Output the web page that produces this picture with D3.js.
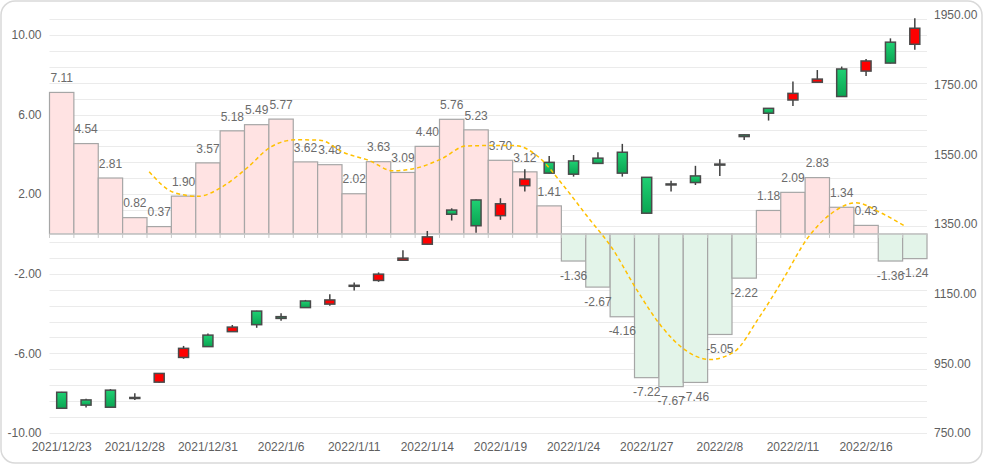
<!DOCTYPE html>
<html>
<head>
<meta charset="utf-8">
<script src="https://cdn.jsdelivr.net/npm/d3@7"></script>
<style>
  body { margin: 0; background: #fff; }
  text { font-family: "Liberation Sans", Arial, sans-serif; }
</style>
</head>
<body>
<div id="chart"></div>
<script>
// categories (trading days)
var dates = ["2021/12/23","2021/12/24","2021/12/27","2021/12/28","2021/12/29","2021/12/30","2021/12/31",
  "2022/1/4","2022/1/5","2022/1/6","2022/1/7","2022/1/10","2022/1/11","2022/1/12","2022/1/13","2022/1/14",
  "2022/1/17","2022/1/18","2022/1/19","2022/1/20","2022/1/21","2022/1/24","2022/1/25","2022/1/26","2022/1/27",
  "2022/1/28","2022/2/7","2022/2/8","2022/2/9","2022/2/10","2022/2/11","2022/2/14","2022/2/15","2022/2/16",
  "2022/2/17","2022/2/18"];

// bar series (left axis)
var barValues = [7.11,4.54,2.81,0.82,0.37,1.90,3.57,5.18,5.49,5.77,3.62,3.48,2.02,3.63,3.09,4.40,5.76,5.23,
  3.70,3.12,1.41,-1.36,-2.67,-4.16,-7.22,-7.67,-7.46,-5.05,-2.22,1.18,2.09,2.83,1.34,0.43,-1.36,-1.24];

// 5-day average of the bars, starts on the 5th day
var maValues = [null,null,null,null,3.13,2.09,1.89,2.37,3.30,4.38,4.73,4.71,4.08,3.70,3.17,3.32,3.78,4.42,
  4.44,4.44,3.84,2.42,0.84,-0.73,-2.80,-4.62,-5.84,-6.31,-5.92,-4.24,-2.29,-0.23,1.04,1.57,1.07,0.40];

// candles (right axis)
var open  = [821,830,824,850,921,993,998,1054,1061,1079,1110,1132,1172,1206,1252,1313,1378,1345,1408,1479,
  1496,1493,1524,1496,1381,1463,1469,1520,1601,1668,1725,1766,1716,1818,1812,1912];
var close = [867,845,873,852,896,967,1031,1041,1100,1084,1129,1120,1174,1188,1246,1292,1390,1419,1374,1460,
  1527,1531,1539,1556,1484,1465,1488,1522,1606,1682,1706,1757,1795,1789,1872,1866];
var low   = [819,823,822,845,894,963,997,1040,1052,1072,1109,1115,1159,1184,1245,1291,1360,1325,1362,1443,
  1495,1486,1523,1486,1380,1443,1462,1488,1591,1647,1689,1756,1715,1775,1811,1850];
var high  = [868,848,876,864,922,1000,1036,1060,1101,1094,1132,1148,1182,1211,1275,1330,1395,1420,1424,1507,
  1545,1548,1556,1580,1485,1474,1517,1536,1607,1683,1759,1792,1802,1824,1883,1941];

var leftTicks = [-10,-6,-2,2,6,10];
var rightTicks = [750,950,1150,1350,1550,1750,1950];

var svgWidth = 984;
var svgHeight = 467;
var plot = { left: 49.5, right: 927, top: 15, bottom: 433 };

var svg = d3.select("#chart")
  .append("svg")
  .attr("width", svgWidth)
  .attr("height", svgHeight);

var defs = svg.append("defs");
var grad = defs.append("linearGradient")
  .attr("id", "greenGrad")
  .attr("x1", 0).attr("y1", 0).attr("x2", 0).attr("y2", 1);
grad.append("stop").attr("offset", "0%").attr("stop-color", "#1fd073");
grad.append("stop").attr("offset", "100%").attr("stop-color", "#0aa552");

// outer frame
svg.append("rect")
  .attr("x", 1).attr("y", 1)
  .attr("width", 981).attr("height", 462)
  .attr("rx", 14)
  .attr("fill", "#fff")
  .attr("stroke", "#d9d9d9")
  .attr("stroke-width", 1.5);

// scales
var x = d3.scaleBand()
  .domain(d3.range(dates.length))
  .range([plot.left, plot.right])
  .padding(0);

var yLeft = d3.scaleLinear()
  .domain([-10, 11])
  .range([plot.bottom, plot.top]);

var yRight = d3.scaleLinear()
  .domain([750, 1950])
  .range([plot.bottom, plot.top]);

// gridlines
svg.append("g")
  .selectAll("line")
  .data(d3.range(-10, 11, 0.8))
  .enter()
  .append("line")
  .attr("x1", plot.left)
  .attr("x2", plot.right)
  .attr("y1", d => Math.round(yLeft(d)) + 0.5)
  .attr("y2", d => Math.round(yLeft(d)) + 0.5)
  .attr("stroke", "#ebebeb")
  .attr("stroke-width", 1);

// bars
svg.append("g")
  .selectAll("rect")
  .data(barValues)
  .enter()
  .append("rect")
  .attr("x", (d, i) => x(i))
  .attr("y", d => yLeft(Math.max(0, d)))
  .attr("width", x.bandwidth())
  .attr("height", d => Math.abs(yLeft(d) - yLeft(0)))
  .attr("fill", d => d >= 0 ? "#ffe3e3" : "#e3f4e9")
  .attr("stroke", "#a6a6a6")
  .attr("stroke-width", 1.2);

// zero axis line with ticks at band edges
var zeroY = yLeft(0);
svg.append("line")
  .attr("x1", plot.left).attr("x2", plot.right)
  .attr("y1", zeroY).attr("y2", zeroY)
  .attr("stroke", "#cfcfcf");

svg.append("g")
  .selectAll("line")
  .data(d3.range(dates.length + 1))
  .enter()
  .append("line")
  .attr("x1", i => i < dates.length ? x(i) : plot.right)
  .attr("x2", i => i < dates.length ? x(i) : plot.right)
  .attr("y1", zeroY)
  .attr("y2", zeroY + 4)
  .attr("stroke", "#c8c8c8");

// bar labels
svg.append("g")
  .selectAll("text")
  .data(barValues)
  .enter()
  .append("text")
  .attr("x", (d, i) => x(i) + x.bandwidth() / 2)
  .attr("y", d => d >= 0 ? yLeft(d) - 14.5 : yLeft(d) + 14.5)
  .attr("dy", "0.35em")
  .style("font-size", "12px")
  .style("text-anchor", "middle")
  .style("fill", "#6b6b6b")
  .text(d => d.toFixed(2));

// candles
var candleW = 10;
var candles = svg.append("g")
  .selectAll("g")
  .data(dates.map((d, i) => i))
  .enter()
  .append("g");

candles.append("line")
  .attr("x1", i => x(i) + x.bandwidth() / 2)
  .attr("x2", i => x(i) + x.bandwidth() / 2)
  .attr("y1", i => yRight(high[i]))
  .attr("y2", i => yRight(low[i]))
  .attr("stroke", "#404040")
  .attr("stroke-width", 1.5);

candles.append("rect")
  .attr("x", i => x(i) + x.bandwidth() / 2 - candleW / 2)
  .attr("y", i => yRight(Math.max(open[i], close[i])))
  .attr("width", candleW)
  .attr("height", i => Math.max(1, Math.abs(yRight(open[i]) - yRight(close[i]))))
  .attr("fill", i => close[i] >= open[i] ? "url(#greenGrad)" : "#ff0000")
  .attr("stroke", "#4a4a4a")
  .attr("stroke-width", 1.5);

// moving average line
var maLine = d3.line()
  .defined(d => d != null)
  .x((d, i) => x(i) + x.bandwidth() / 2 - 10)
  .y(d => yLeft(d))
  .curve(d3.curveMonotoneX);

svg.append("path")
  .datum(maValues)
  .attr("d", maLine)
  .attr("fill", "none")
  .attr("stroke", "#ffc000")
  .attr("stroke-width", 1.5)
  .attr("stroke-dasharray", "4,3");

// left axis
var leftAxis = d3.axisLeft(yLeft)
  .tickValues(leftTicks)
  .tickSize(0)
  .tickPadding(8)
  .tickFormat(d => d.toFixed(2));

svg.append("g")
  .attr("transform", `translate(${plot.left}, 0)`)
  .call(leftAxis)
  .call(g => g.select(".domain").remove())
  .selectAll("text")
  .style("font-size", "12px")
  .style("font-family", "'Liberation Sans', Arial, sans-serif")
  .style("fill", "#5f5f5f");

// right axis
var rightAxis = d3.axisRight(yRight)
  .tickValues(rightTicks)
  .tickSize(0)
  .tickPadding(7)
  .tickFormat(d => d.toFixed(2));

svg.append("g")
  .attr("transform", `translate(${plot.right}, 0)`)
  .call(rightAxis)
  .call(g => g.select(".domain").remove())
  .selectAll("text")
  .style("font-size", "12px")
  .style("font-family", "'Liberation Sans', Arial, sans-serif")
  .style("fill", "#5f5f5f");

// category labels at the bottom
var bottomAxis = d3.axisBottom(x)
  .tickValues(d3.range(0, dates.length, 3))
  .tickSize(0)
  .tickPadding(9)
  .tickFormat(i => dates[i]);

svg.append("g")
  .attr("transform", `translate(0, ${plot.bottom})`)
  .call(bottomAxis)
  .call(g => g.select(".domain").remove())
  .selectAll("text")
  .style("font-size", "12px")
  .style("font-family", "'Liberation Sans', Arial, sans-serif")
  .style("fill", "#5f5f5f");
</script>
</body>
</html>
